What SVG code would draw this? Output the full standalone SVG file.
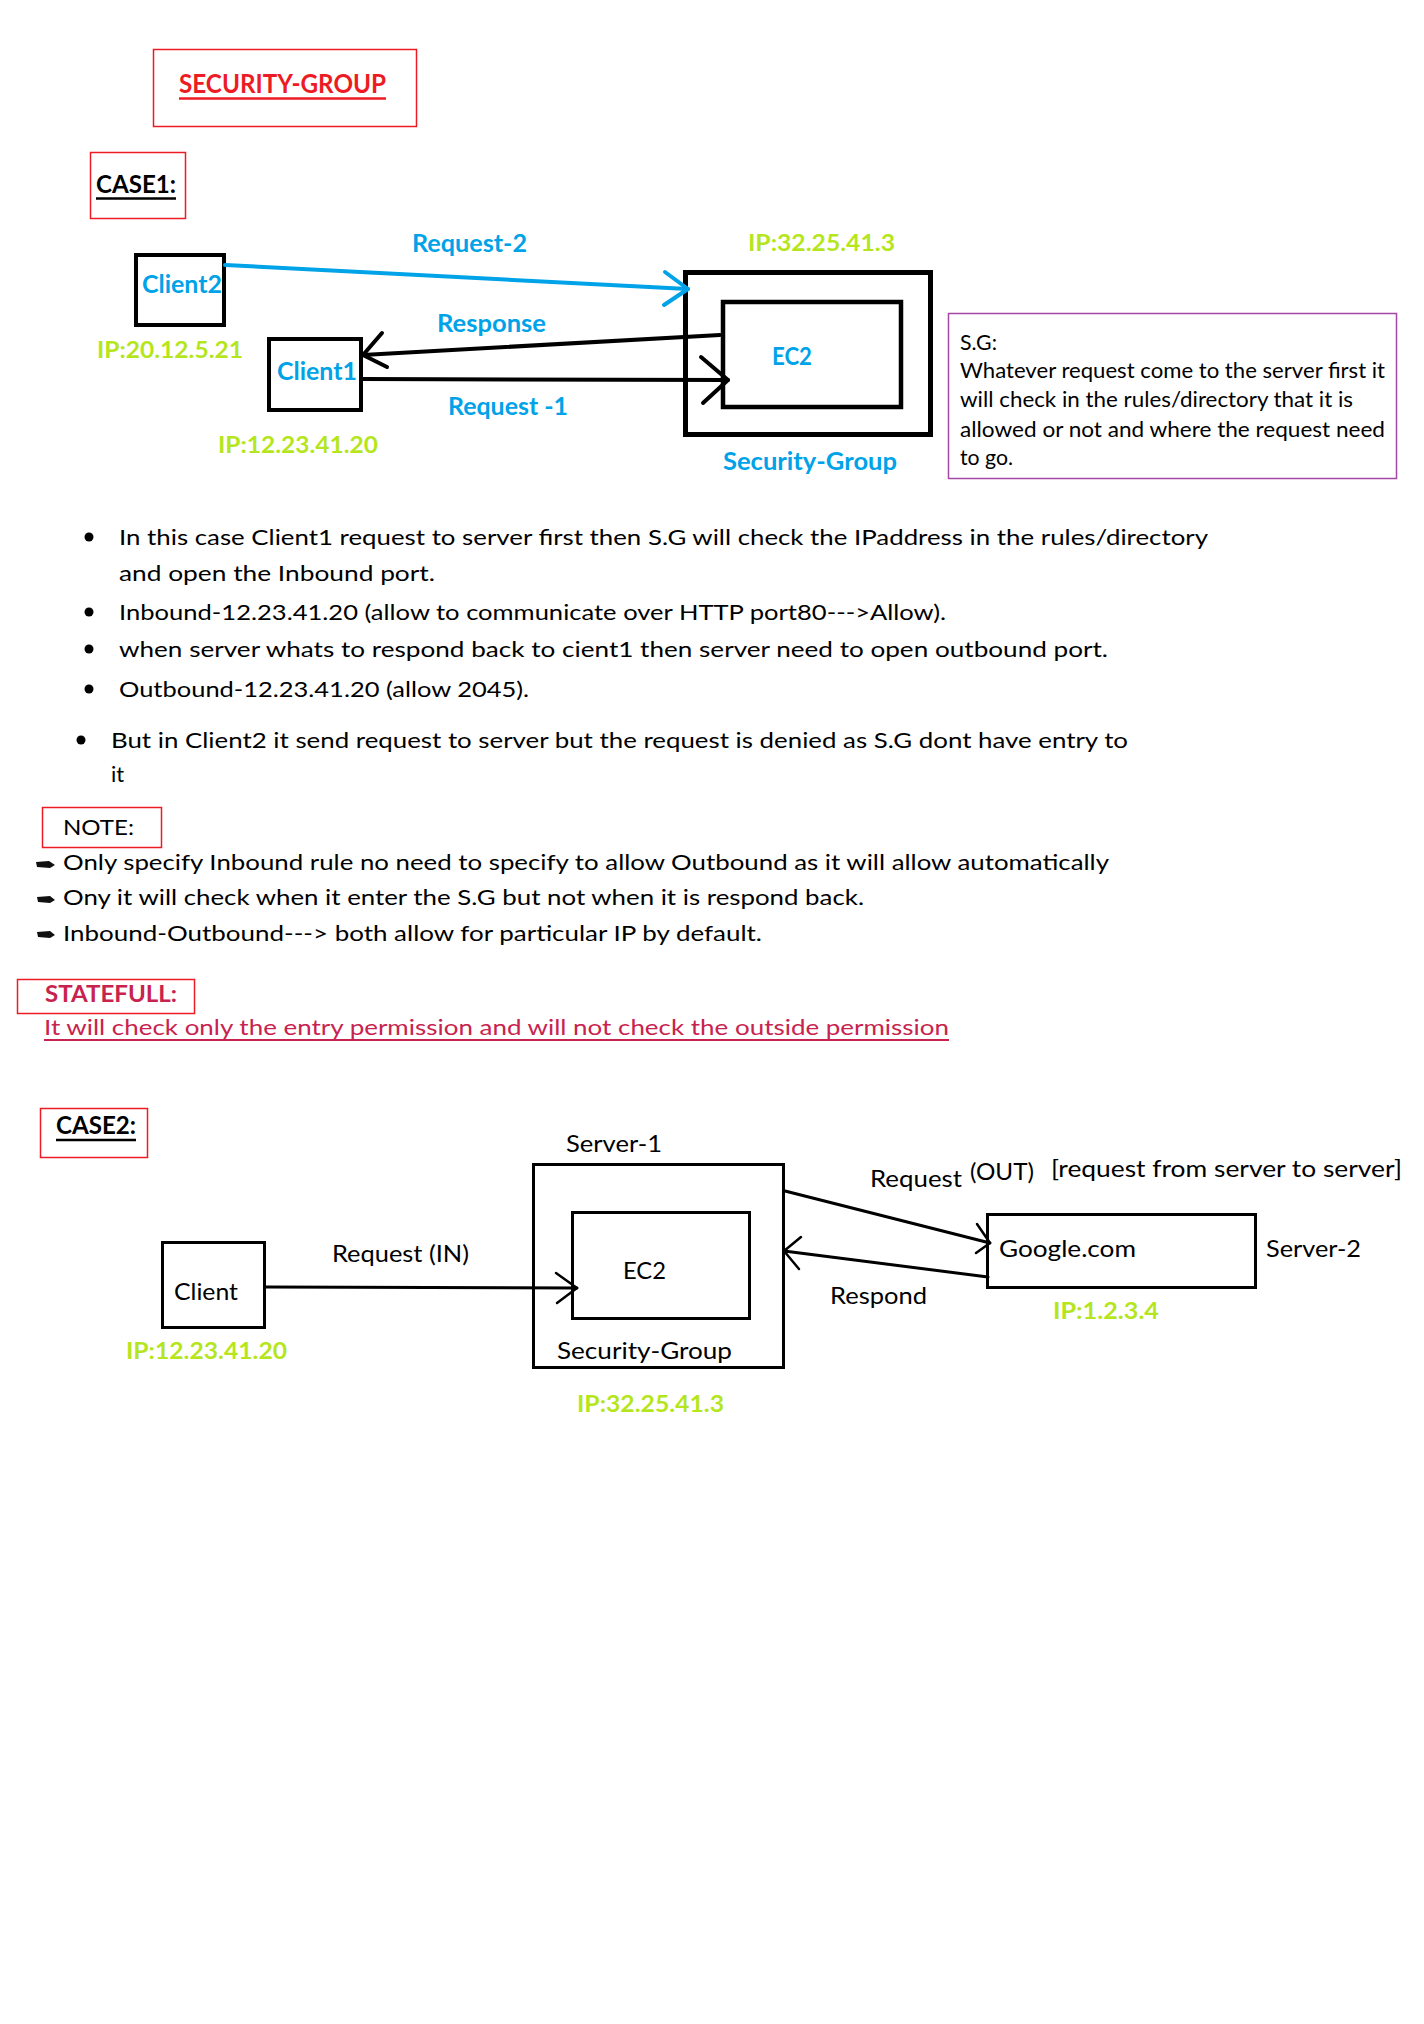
<svg xmlns="http://www.w3.org/2000/svg" width="1424" height="2024" viewBox="0 0 1424 2024">
<style>
text{font-family:Lato,"Open Sans","Liberation Sans",sans-serif;}
.b{font-weight:bold;}
.blue{fill:#00a2e8;}
.green{fill:#b5e61d;font-weight:bold;font-size:22px;}
.red{fill:#ed1c24;}
.crim{fill:#c8234e;}
.body{font-size:22px;fill:#000;}
.c2{font-size:24px;fill:#000;}
.lbl{font-size:24px;font-weight:bold;fill:#00a2e8;}
.rbox{fill:none;stroke:#ed1c24;stroke-width:1.5;}
.node{fill:none;stroke:#000;}
.ln{fill:none;stroke:#000;stroke-linecap:round;stroke-linejoin:round;}
</style>
<rect width="1424" height="2024" fill="#fff"/>

<g id="title">
<rect class="rbox" x="153.5" y="49.5" width="263" height="77"/>
<text x="179" y="93" font-size="26" class="b red" textLength="207" lengthAdjust="spacingAndGlyphs">SECURITY-GROUP</text>
<line x1="179" y1="98.5" x2="386" y2="98.5" stroke="#ed1c24" stroke-width="2.5"/>
</g>

<g id="case1-label">
<rect class="rbox" x="90.5" y="152.5" width="95" height="66"/>
<text x="96" y="193" font-size="24" class="b" fill="#000" textLength="80" lengthAdjust="spacingAndGlyphs">CASE1:</text>
<line x1="96" y1="198.5" x2="176" y2="198.5" stroke="#000" stroke-width="2.5"/>
</g>

<g id="client2">
<rect class="node" x="136" y="255" width="88" height="70" stroke-width="4"/>
<text x="142" y="293" class="lbl" textLength="80" lengthAdjust="spacingAndGlyphs">Client2</text>
<text x="97" y="358" class="green" textLength="146" lengthAdjust="spacingAndGlyphs">IP:20.12.5.21</text>
</g>

<g id="client1">
<rect class="node" x="269" y="339" width="92" height="71" stroke-width="4"/>
<text x="277" y="380" class="lbl" textLength="80" lengthAdjust="spacingAndGlyphs">Client1</text>
<text x="218" y="453" class="green" textLength="160" lengthAdjust="spacingAndGlyphs">IP:12.23.41.20</text>
</g>

<g id="sg1">
<rect class="node" x="685.5" y="272.5" width="245" height="162" stroke-width="5"/>
<text x="748" y="251" class="green" textLength="147" lengthAdjust="spacingAndGlyphs">IP:32.25.41.3</text>
<text x="723" y="470" class="lbl" textLength="174" lengthAdjust="spacingAndGlyphs">Security-Group</text>
</g>

<g id="ec2-1">
<rect class="node" x="723" y="302" width="178" height="105" stroke-width="4.5"/>
<text x="772" y="365" class="lbl" textLength="40" lengthAdjust="spacingAndGlyphs">EC2</text>
</g>

<g id="sg-note">
<rect x="948.5" y="313.5" width="448" height="165" fill="none" stroke="#a349a4" stroke-width="1.5"/>
<text x="960" y="350" font-size="21" fill="#000" textLength="37" lengthAdjust="spacingAndGlyphs">S.G:</text>
<text x="960" y="378" font-size="21" fill="#000" textLength="425" lengthAdjust="spacingAndGlyphs">Whatever request come to the server first it</text>
<text x="960" y="407" font-size="21" fill="#000" textLength="393" lengthAdjust="spacingAndGlyphs">will check in the rules/directory that it is</text>
<text x="960" y="437" font-size="21" fill="#000" textLength="425" lengthAdjust="spacingAndGlyphs">allowed or not and where the request need</text>
<text x="960" y="465" font-size="21" fill="#000" textLength="53" lengthAdjust="spacingAndGlyphs">to go.</text>
</g>

<g id="connectors-case1">
<line x1="225" y1="265" x2="688" y2="289" stroke="#00a2e8" stroke-width="4" stroke-linecap="round"/>
<polyline points="665,272 688,289 664,305" fill="none" stroke="#00a2e8" stroke-width="4" stroke-linecap="round" stroke-linejoin="round"/>
<text x="412" y="252" class="lbl" textLength="115" lengthAdjust="spacingAndGlyphs">Request-2</text>
<line class="ln" x1="720" y1="335" x2="363" y2="355" stroke-width="4"/>
<polyline class="ln" points="382,333 363,355 387,367" stroke-width="4"/>
<text x="437" y="332" class="lbl" textLength="109" lengthAdjust="spacingAndGlyphs">Response</text>
<line class="ln" x1="363" y1="379" x2="728" y2="380" stroke-width="4"/>
<polyline class="ln" points="701,357 728,380 703,403" stroke-width="4"/>
<text x="448" y="415" class="lbl" textLength="120" lengthAdjust="spacingAndGlyphs">Request -1</text>
</g>

<g id="case1-bullets" class="body">
<circle cx="89" cy="537" r="4.5" fill="#000"/>
<circle cx="89" cy="612" r="4.5" fill="#000"/>
<circle cx="89" cy="649" r="4.5" fill="#000"/>
<circle cx="89" cy="689" r="4.5" fill="#000"/>
<circle cx="81" cy="740" r="4.5" fill="#000"/>
<text class="body" x="119" y="545" textLength="1089" lengthAdjust="spacingAndGlyphs">In this case Client1 request to server first then S.G will check the IPaddress in the rules/directory</text>
<text class="body" x="119" y="581" textLength="316" lengthAdjust="spacingAndGlyphs">and open the Inbound port.</text>
<text class="body" x="119" y="620" textLength="827" lengthAdjust="spacingAndGlyphs">Inbound-12.23.41.20 (allow to communicate over HTTP port80---&gt;Allow).</text>
<text class="body" x="119" y="657" textLength="989" lengthAdjust="spacingAndGlyphs">when server whats to respond back to cient1 then server need to open outbound port.</text>
<text class="body" x="119" y="697" textLength="410" lengthAdjust="spacingAndGlyphs">Outbound-12.23.41.20 (allow 2045).</text>
<text class="body" x="111" y="748" textLength="1017" lengthAdjust="spacingAndGlyphs">But in Client2 it send request to server but the request is denied as S.G dont have entry to</text>
<text class="body" x="111" y="782">it</text>
</g>

<g id="note">
<rect class="rbox" x="42.5" y="807.5" width="119" height="40"/>
<text class="body" x="63" y="835" textLength="71" lengthAdjust="spacingAndGlyphs">NOTE:</text>
<polygon points="36,862 49,861 55,865 50,868 37,867" fill="#111"/>
<polygon points="37,897 50,896 55,900 50,903 38,902" fill="#111"/>
<polygon points="37,932 50,931 55,935 50,938 38,937" fill="#111"/>
<text class="body" x="63" y="870" textLength="1046" lengthAdjust="spacingAndGlyphs">Only specify Inbound rule no need to specify to allow Outbound as it will allow automatically</text>
<text class="body" x="63" y="905" textLength="801" lengthAdjust="spacingAndGlyphs">Ony it will check when it enter the S.G but not when it is respond back.</text>
<text class="body" x="63" y="941" textLength="699" lengthAdjust="spacingAndGlyphs">Inbound-Outbound---&gt; both allow for particular IP by default.</text>
</g>

<g id="statefull">
<rect class="rbox" x="17.5" y="979.5" width="177" height="34"/>
<text x="45" y="1002" font-size="23" class="b crim" textLength="132" lengthAdjust="spacingAndGlyphs">STATEFULL:</text>
<text x="44" y="1035" font-size="22" class="crim" textLength="905" lengthAdjust="spacingAndGlyphs">It will check only the entry permission and will not check the outside permission</text>
<line x1="44" y1="1040" x2="949" y2="1040" stroke="#c8234e" stroke-width="2"/>
</g>

<g id="case2-label">
<rect class="rbox" x="40.5" y="1108.5" width="107" height="49"/>
<text x="56" y="1134" font-size="24" class="b" fill="#000" textLength="80" lengthAdjust="spacingAndGlyphs">CASE2:</text>
<line x1="56" y1="1140" x2="136" y2="1140" stroke="#000" stroke-width="2.5"/>
</g>

<g id="client">
<rect class="node" x="162.5" y="1242.5" width="102" height="85" stroke-width="3"/>
<text class="c2" x="174" y="1300" textLength="64" lengthAdjust="spacingAndGlyphs">Client</text>
<text class="green" x="126" y="1359" textLength="161" lengthAdjust="spacingAndGlyphs">IP:12.23.41.20</text>
</g>

<g id="server1">
<rect class="node" x="533.5" y="1164.5" width="250" height="203" stroke-width="3"/>
<text class="c2" x="566" y="1152" textLength="96" lengthAdjust="spacingAndGlyphs">Server-1</text>
<text class="c2" x="557" y="1359" textLength="175" lengthAdjust="spacingAndGlyphs">Security-Group</text>
<text class="green" x="577" y="1412" textLength="147" lengthAdjust="spacingAndGlyphs">IP:32.25.41.3</text>
</g>

<g id="ec2-2">
<rect class="node" x="572.5" y="1212.5" width="177" height="106" stroke-width="3"/>
<text class="c2" x="623" y="1279" textLength="43" lengthAdjust="spacingAndGlyphs">EC2</text>
</g>

<g id="google">
<rect class="node" x="987.5" y="1214.5" width="268" height="73" stroke-width="3"/>
<text class="c2" x="999" y="1257" textLength="137" lengthAdjust="spacingAndGlyphs">Google.com</text>
<text class="c2" x="1266" y="1257" textLength="95" lengthAdjust="spacingAndGlyphs">Server-2</text>
<text class="green" x="1053" y="1319" textLength="106" lengthAdjust="spacingAndGlyphs">IP:1.2.3.4</text>
</g>

<g id="connectors-case2">
<line class="ln" x1="266" y1="1287" x2="577" y2="1288" stroke-width="3"/>
<polyline class="ln" points="556,1273 577,1288 557,1303" stroke-width="2.5"/>
<text class="c2" x="332" y="1262" textLength="137" lengthAdjust="spacingAndGlyphs">Request (IN)</text>
<line class="ln" x1="785" y1="1191" x2="990" y2="1243" stroke-width="3"/>
<polyline class="ln" points="977,1224 990,1243 976,1253" stroke-width="2.5"/>
<text class="c2" x="870" y="1187" textLength="92" lengthAdjust="spacingAndGlyphs">Request</text>
<text class="c2" x="970" y="1180" textLength="64" lengthAdjust="spacingAndGlyphs">(OUT)</text>
<text class="c2" x="1051" y="1177" textLength="351" lengthAdjust="spacingAndGlyphs">[request from server to server]</text>
<line class="ln" x1="988" y1="1277" x2="784" y2="1251" stroke-width="3"/>
<polyline class="ln" points="801,1237 784,1251 799,1269" stroke-width="2.5"/>
<text class="c2" x="830" y="1304" textLength="97" lengthAdjust="spacingAndGlyphs">Respond</text>
</g>
</svg>
